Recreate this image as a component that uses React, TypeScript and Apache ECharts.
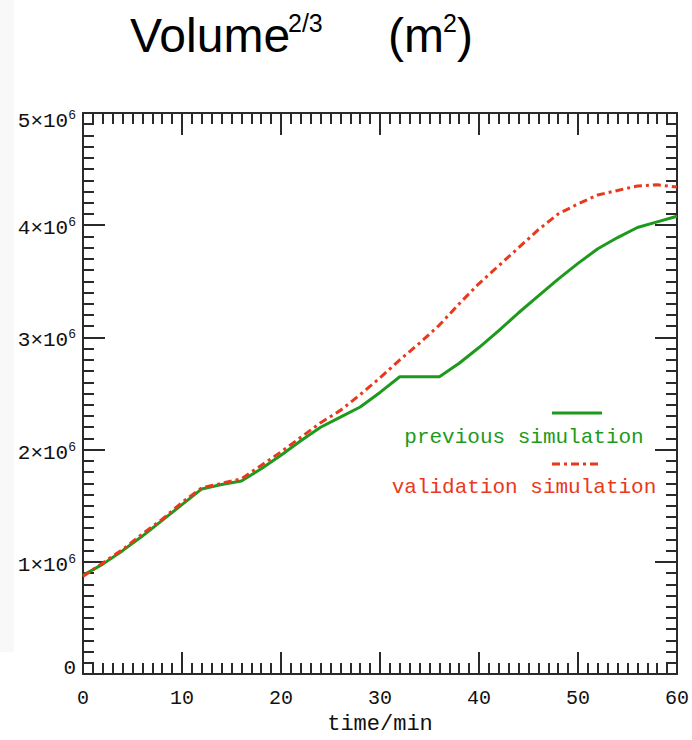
import React, { useEffect, useRef } from "react";
import * as echarts from "echarts";

// time in minutes
const times = [0, 2, 4, 6, 8, 10, 12, 14, 16, 18, 20, 22, 24, 26, 28, 30, 32, 34, 36, 38, 40, 42, 44, 46, 48, 50, 52, 54, 56, 58, 60];
// Volume^(2/3) in units of 10^6 m^2
const previousSimulation = [0.88, 0.98, 1.10, 1.23, 1.37, 1.51, 1.65, 1.69, 1.72, 1.83, 1.95, 2.08, 2.20, 2.29, 2.38, 2.51, 2.65, 2.65, 2.65, 2.77, 2.91, 3.06, 3.22, 3.37, 3.52, 3.66, 3.79, 3.89, 3.98, 4.03, 4.08];
const validationSimulation = [0.87, 0.99, 1.11, 1.25, 1.38, 1.53, 1.66, 1.70, 1.74, 1.86, 1.98, 2.11, 2.24, 2.35, 2.49, 2.64, 2.80, 2.95, 3.11, 3.30, 3.48, 3.64, 3.80, 3.96, 4.10, 4.19, 4.27, 4.31, 4.35, 4.36, 4.34];
const seriesNames = ["previous simulation", "validation simulation"];
const xRange = [0, 60];
const yRange = [0, 5e6];
const SCALE = 1e6;

const GREEN = "#1d9a1d";
const RED = "#e8391c";
const AXIS = "#2a2a2a";
const MONO = '"Liberation Mono", "DejaVu Sans Mono", monospace';
const SANS = '"Liberation Sans", Arial, sans-serif';

export default function App() {
  const ref = useRef<HTMLDivElement>(null);
  useEffect(() => {
    document.body.style.margin = "0";
    const chart = echarts.init(ref.current!, null, { renderer: "svg" });
    const tick = { show: true, inside: true, length: 22, lineStyle: { color: AXIS, width: 2 } };
    const minor = { show: true, splitNumber: 10, length: 11, lineStyle: { color: AXIS, width: 2 } };
    const axisLine = { show: true, onZero: false, lineStyle: { color: AXIS, width: 2 } };
    const yFmt = (v: number) => {
      if (v === 0) return "{z|0}";
      const n = v / SCALE;
      if (v === yRange[1]) return `{bt|${n}×10}{st|6}`;
      return `{b|${n}×10}{s|6}`;
    };
    const lbl = { fontFamily: MONO, color: "#111" };
    chart.setOption({
      animation: false,
      backgroundColor: "#ffffff",
      grid: { left: 83, top: 113, right: 10, bottom: 60, containLabel: false },
      xAxis: [
        {
          type: "value",
          min: xRange[0],
          max: xRange[1],
          interval: 10,
          position: "bottom",
          axisLine,
          axisTick: tick,
          minorTick: minor,
          splitLine: { show: false },
          axisLabel: { show: true, margin: 14, color: "#111", fontFamily: MONO, fontSize: 20 },
          name: "time/min",
          nameLocation: "middle",
          nameGap: 38,
          nameTextStyle: { color: "#111", fontFamily: MONO, fontSize: 22 },
        },
        {
          type: "value",
          min: xRange[0],
          max: xRange[1],
          interval: 10,
          position: "top",
          axisLine,
          axisTick: tick,
          minorTick: minor,
          splitLine: { show: false },
          axisLabel: { show: false },
        },
      ],
      yAxis: [
        {
          type: "value",
          min: yRange[0],
          max: yRange[1],
          interval: 1e6,
          position: "left",
          axisLine,
          axisTick: tick,
          minorTick: minor,
          splitLine: { show: false },
          axisLabel: {
            show: true,
            margin: 7,
            formatter: yFmt,
            rich: {
              b: { ...lbl, fontSize: 21, padding: [7, 0, 0, 0] },
              s: { ...lbl, fontSize: 13, padding: [5, 0, 10, 0] },
              bt: { ...lbl, fontSize: 21, padding: [17, 0, 0, 0] },
              st: { ...lbl, fontSize: 13, padding: [15, 0, 10, 0] },
              z: { ...lbl, fontSize: 21, padding: [0, 0, 12, 0] },
            },
          },
        },
        {
          type: "value",
          min: yRange[0],
          max: yRange[1],
          interval: 1e6,
          position: "right",
          axisLine,
          axisTick: tick,
          minorTick: minor,
          splitLine: { show: false },
          axisLabel: { show: false },
        },
      ],
      series: [
        {
          name: seriesNames[0],
          type: "line",
          xAxisIndex: 0,
          yAxisIndex: 0,
          showSymbol: false,
          symbol: "none",
          z: 3,
          lineStyle: { color: GREEN, width: 3 },
          data: times.map((t, i) => [t, previousSimulation[i] * SCALE]),
        },
        {
          name: seriesNames[1],
          type: "line",
          xAxisIndex: 0,
          yAxisIndex: 0,
          showSymbol: false,
          symbol: "none",
          z: 4,
          lineStyle: { color: RED, width: 3, type: [8, 4, 3, 4] },
          data: times.map((t, i) => [t, validationSimulation[i] * SCALE]),
        },
      ],
      graphic: [
        { type: "rect", z: -10, shape: { x: 0, y: 0, width: 14, height: 652 }, style: { fill: "#f7f8f7" } },
        // title
        { type: "text", x: 130, y: 35, style: { text: "Volume", fontFamily: SANS, fontSize: 48, fill: "#000", align: "left", verticalAlign: "middle" } },
        { type: "text", x: 288, y: 23, style: { text: "2/3", fontFamily: SANS, fontSize: 25, fill: "#000", align: "left", verticalAlign: "middle" } },
        { type: "text", x: 388, y: 35, style: { text: "(m", fontFamily: SANS, fontSize: 48, fill: "#000", align: "left", verticalAlign: "middle" } },
        { type: "text", x: 443, y: 23, style: { text: "2", fontFamily: SANS, fontSize: 25, fill: "#000", align: "left", verticalAlign: "middle" } },
        { type: "text", x: 457, y: 35, style: { text: ")", fontFamily: SANS, fontSize: 48, fill: "#000", align: "left", verticalAlign: "middle" } },
        // legend
        { type: "line", shape: { x1: 552, y1: 413, x2: 602, y2: 413 }, style: { stroke: GREEN, lineWidth: 3 } },
        { type: "text", x: 524, y: 437, style: { text: seriesNames[0], fontFamily: MONO, fontSize: 21, fill: GREEN, align: "center", verticalAlign: "middle" } },
        { type: "line", shape: { x1: 552, y1: 464, x2: 602, y2: 464 }, style: { stroke: RED, lineWidth: 3, lineDash: [8, 4, 3, 4] } },
        { type: "text", x: 524, y: 487, style: { text: seriesNames[1], fontFamily: MONO, fontSize: 21, fill: RED, align: "center", verticalAlign: "middle" } },
      ],
    });
    return () => chart.dispose();
  }, []);
  return <div ref={ref} style={{ position: "absolute", left: 0, top: 0, width: 692, height: 740 }} />;
}
